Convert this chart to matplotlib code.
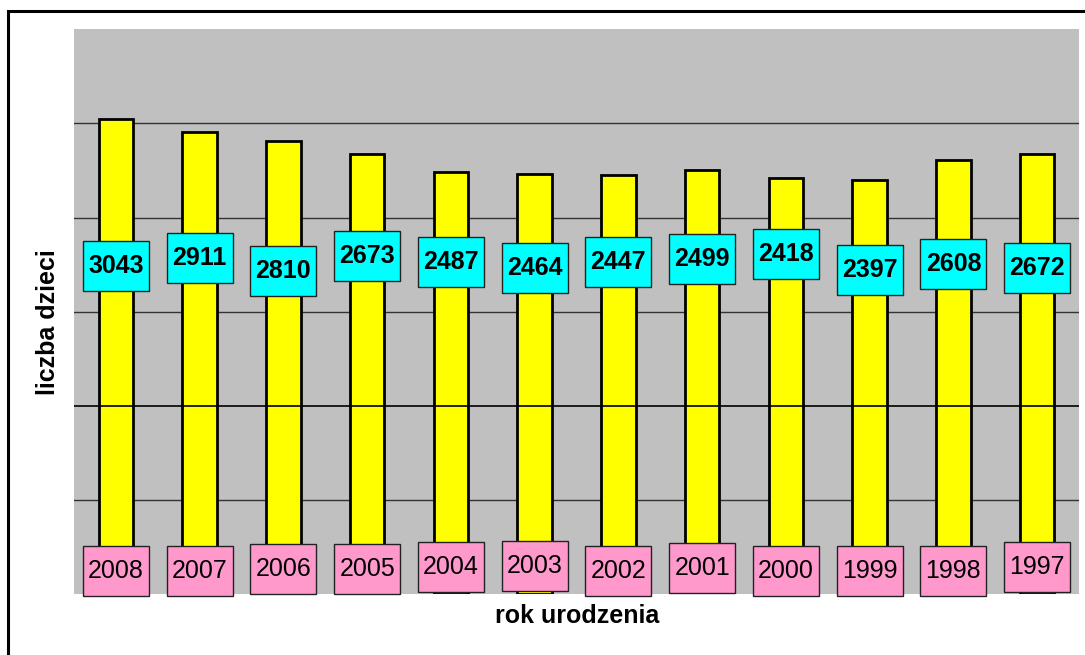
import matplotlib
matplotlib.use('Agg')
import matplotlib.pyplot as plt
from matplotlib.patches import Rectangle

# dane: liczba dzieci wg roku urodzenia
years = ['2008', '2007', '2006', '2005', '2004', '2003', '2002', '2001', '2000', '1999', '1998', '1997']
counts = [3043, 2911, 2810, 2673, 2487, 2464, 2447, 2499, 2418, 2397, 2608, 2672]

# polozenie etykiet (srodek ramki, w jednostkach osi y)
value_label_y = [1484, 1569, 1431, 1590, 1527, 1463, 1527, 1559, 1612, 1441, 1505, 1463]
year_label_y = [-1750, -1750, -1729, -1729, -1707, -1697, -1750, -1718, -1750, -1750, -1750, -1707]

ymin, ymax = -2000, 4000

plt.rcParams['font.family'] = ['Liberation Sans', 'DejaVu Sans']

fig = plt.figure(figsize=(10.85, 6.55), dpi=100)
ax = fig.add_axes([0.0682, 0.0924, 0.9263, 0.8633])
ax.set_facecolor('#C0C0C0')

x = list(range(len(years)))
# slupki zaczynaja sie od dolu osi (os pozioma przecina w minimum)
ax.bar(x, [c - ymin for c in counts], bottom=ymin, width=0.41,
       color='#FFFF00', edgecolor='black', linewidth=2, zorder=3)

ax.set_xlim(-0.5, len(years) - 0.5)
ax.set_ylim(ymin, ymax)
for g in [-1000, 1000, 2000, 3000]:
    ax.axhline(g, color='#333333', linewidth=1, zorder=1)
ax.axhline(0, color='black', linewidth=1.2, zorder=4)

bw, bh = 0.79, 532
for i in x:
    ax.add_patch(Rectangle((i - bw / 2, value_label_y[i] - bh / 2), bw, bh,
                           facecolor='#00FFFF', edgecolor='#222222', linewidth=1, zorder=5))
    ax.text(i, value_label_y[i], str(counts[i]), ha='center', va='center',
            fontsize=18, fontweight='bold', zorder=6)
    ax.add_patch(Rectangle((i - bw / 2, year_label_y[i] - bh / 2), bw, bh,
                           facecolor='#FF99CC', edgecolor='#222222', linewidth=1,
                           zorder=5, clip_on=False))
    ax.text(i, year_label_y[i], years[i], ha='center', va='center',
            fontsize=18, zorder=6, clip_on=False)

ax.set_xticks([])
ax.set_yticks([])
for s in ax.spines.values():
    s.set_visible(False)

fig.text(577 / 1085, 1 - 616 / 655, 'rok urodzenia', ha='center', va='center',
         fontsize=18, fontweight='bold')
fig.text(48 / 1085, 1 - 322 / 655, 'liczba dzieci', ha='center', va='center',
         fontsize=18, fontweight='bold', rotation=90)

# ramka wokol wykresu (ucieta z prawej i u dolu)
fig.patches.append(Rectangle((7.5 / 1085, -0.05), 1.1, 1 - 10.5 / 655 + 0.05,
                             transform=fig.transFigure, fill=False,
                             edgecolor='black', linewidth=2.2))

fig.savefig('out.png', dpi=100)
